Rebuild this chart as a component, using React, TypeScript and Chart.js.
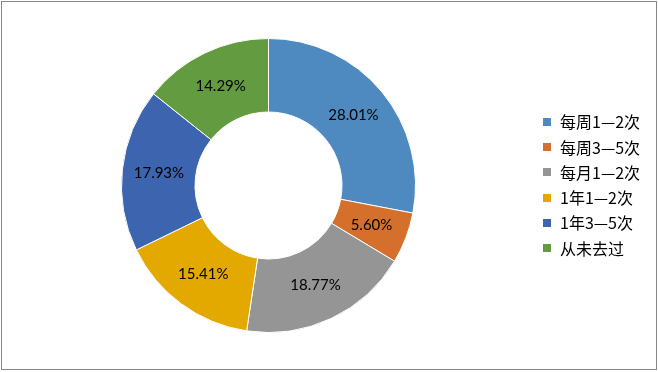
import React, { useEffect, useRef } from "react";
import { Chart, registerables } from "chart.js";

Chart.register(...registerables);

const categories = ["每周1—2次", "每周3—5次", "每月1—2次", "1年1—2次", "1年3—5次", "从未去过"];
const shares = [28.01, 5.6, 18.77, 15.41, 17.93, 14.29];
const shareLabels = ["28.01%", "5.60%", "18.77%", "15.41%", "17.93%", "14.29%"];
const colors = ["#4E89C0", "#D5702C", "#959595", "#E3A900", "#3D64AF", "#639B40"];

const framePlugin = {
  id: "frame",
  beforeDraw(chart: any) {
    const ctx = chart.ctx;
    ctx.save();
    ctx.fillStyle = "#ffffff";
    ctx.fillRect(0, 0, chart.width, chart.height);
    ctx.strokeStyle = "#868686";
    ctx.lineWidth = 1;
    ctx.strokeRect(1.5, 1.5, 655, 368);
    ctx.restore();
  },
};

const labelPlugin = {
  id: "sliceLabels",
  afterDatasetsDraw(chart: any) {
    const ctx = chart.ctx;
    const meta = chart.getDatasetMeta(0);
    ctx.save();
    ctx.font = "15px Lato, 'Noto Sans', sans-serif";
    ctx.fillStyle = "#000000";
    ctx.textAlign = "center";
    ctx.textBaseline = "middle";
    meta.data.forEach((arc: any, i: number) => {
      const { startAngle, endAngle, innerRadius, outerRadius, x, y } = arc.getProps(
        ["startAngle", "endAngle", "innerRadius", "outerRadius", "x", "y"],
        true
      );
      const a = (startAngle + endAngle) / 2;
      const r = (innerRadius + outerRadius) / 2;
      ctx.fillText(shareLabels[i], x + Math.cos(a) * r, y + Math.sin(a) * r);
    });
    ctx.restore();
  },
};

const legendPlugin = {
  id: "sideLegend",
  afterDraw(chart: any) {
    const ctx = chart.ctx;
    ctx.save();
    ctx.font = "16px 'Noto Sans CJK SC', sans-serif";
    ctx.textBaseline = "middle";
    ctx.textAlign = "left";
    categories.forEach((c, i) => {
      const cy = 121.7 + i * 25.3;
      ctx.fillStyle = colors[i];
      ctx.fillRect(543, Math.round(cy - 4), 8, 8);
      ctx.fillStyle = "#000000";
      ctx.fillText(c, 560, cy + 0.5);
    });
    ctx.restore();
  },
};

export default function App() {
  const ref = useRef<HTMLCanvasElement>(null);
  useEffect(() => {
    document.body.style.margin = "0";
    const chart = new Chart(ref.current!, {
      type: "doughnut",
      data: {
        labels: categories,
        datasets: [
          {
            data: shares,
            backgroundColor: colors,
            borderColor: "#ffffff",
            borderWidth: 1,
          },
        ],
      },
      options: {
        responsive: false,
        animation: false,
        cutout: "50%",
        layout: { padding: { left: 121, right: 242, top: 38, bottom: 39 } },
        plugins: {
          legend: { display: false },
          tooltip: { enabled: false },
        },
      },
      plugins: [framePlugin, labelPlugin, legendPlugin],
    });
    return () => chart.destroy();
  }, []);
  return (
    <div style={{ position: "absolute", left: 0, top: 0, width: 658, height: 372 }}>
      <canvas ref={ref} width={658} height={372} style={{ display: "block" }} />
    </div>
  );
}
